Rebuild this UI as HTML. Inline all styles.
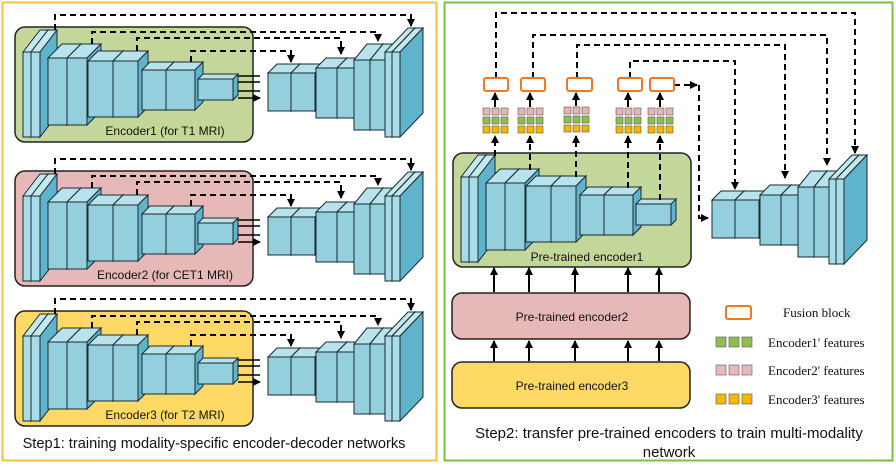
<!DOCTYPE html>
<html><head><meta charset="utf-8"><style>
html,body{margin:0;padding:0;background:#fff}
svg{display:block}
text{font-family:"Liberation Sans",sans-serif}
.serif{font-family:"Liberation Serif",serif}
</style></head><body>
<svg width="896" height="465" viewBox="0 0 896 465" xmlns="http://www.w3.org/2000/svg">
<defs>
<marker id="ah" markerWidth="9" markerHeight="9" refX="7" refY="4.5" orient="auto" markerUnits="userSpaceOnUse">
<path d="M0,0.5 L8,4.5 L0,8.5 z" fill="#000"/></marker>
<g id="enc" stroke="#1a2a30" stroke-width="1">
<rect x="23" y="52" width="8" height="85" fill="#a8dce8"/><polygon points="23,52 40,30 48,30 31,52" fill="#c4e8f0"/><polygon points="31,52 48,30 48,115 31,137" fill="#5fb3cb"/>
<rect x="31" y="52" width="9" height="85" fill="#a8dce8"/><polygon points="31,52 48,30 57,30 40,52" fill="#c4e8f0"/><polygon points="40,52 57,30 57,115 40,137" fill="#5fb3cb"/>
<rect x="48" y="58" width="19" height="67" fill="#93cfdd"/><polygon points="48,58 62,44 81,44 67,58" fill="#b9e3ec"/><polygon points="67,58 81,44 81,111 67,125" fill="#5fb3cb"/>
<rect x="67" y="58" width="20" height="67" fill="#93cfdd"/><polygon points="67,58 81,44 101,44 87,58" fill="#b9e3ec"/><polygon points="87,58 101,44 101,111 87,125" fill="#5fb3cb"/>
<rect x="88" y="61" width="25" height="56" fill="#93cfdd"/><polygon points="88,61 98,51 123,51 113,61" fill="#b9e3ec"/><polygon points="113,61 123,51 123,107 113,117" fill="#5fb3cb"/>
<rect x="113" y="61" width="25" height="56" fill="#93cfdd"/><polygon points="113,61 123,51 148,51 138,61" fill="#b9e3ec"/><polygon points="138,61 148,51 148,107 138,117" fill="#5fb3cb"/>
<rect x="142" y="70" width="24" height="40" fill="#93cfdd"/><polygon points="142,70 150,62 174,62 166,70" fill="#b9e3ec"/><polygon points="166,70 174,62 174,102 166,110" fill="#5fb3cb"/>
<rect x="166" y="70" width="29" height="40" fill="#93cfdd"/><polygon points="166,70 174,62 203,62 195,70" fill="#b9e3ec"/><polygon points="195,70 203,62 203,102 195,110" fill="#5fb3cb"/>
<rect x="198" y="79" width="35" height="21" fill="#93cfdd"/><polygon points="198,79 203,74 238,74 233,79" fill="#b9e3ec"/><polygon points="233,79 238,74 238,95 233,100" fill="#5fb3cb"/>
</g>
<g id="dec" stroke="#1a2a30" stroke-width="1">
<rect x="268" y="73" width="23" height="38" fill="#93cfdd"/><polygon points="268,73 277,64 300,64 291,73" fill="#b9e3ec"/><polygon points="291,73 300,64 300,102 291,111" fill="#5fb3cb"/>
<rect x="291" y="73" width="24" height="38" fill="#93cfdd"/><polygon points="291,73 300,64 324,64 315,73" fill="#b9e3ec"/><polygon points="315,73 324,64 324,102 315,111" fill="#5fb3cb"/>
<rect x="316" y="68" width="21" height="50" fill="#93cfdd"/><polygon points="316,68 326,58 347,58 337,68" fill="#b9e3ec"/><polygon points="337,68 347,58 347,108 337,118" fill="#5fb3cb"/>
<rect x="337" y="68" width="17" height="50" fill="#93cfdd"/><polygon points="337,68 347,58 364,58 354,68" fill="#b9e3ec"/><polygon points="354,68 364,58 364,108 354,118" fill="#5fb3cb"/>
<rect x="354" y="60" width="16" height="70" fill="#93cfdd"/><polygon points="354,60 367,44 383,44 370,60" fill="#b9e3ec"/><polygon points="370,60 383,44 383,114 370,130" fill="#5fb3cb"/>
<rect x="370" y="60" width="15" height="70" fill="#93cfdd"/><polygon points="370,60 383,44 398,44 385,60" fill="#b9e3ec"/><polygon points="385,60 398,44 398,114 385,130" fill="#5fb3cb"/>
<rect x="385" y="52" width="7" height="85" fill="#a8dce8"/><polygon points="385,52 408,28 415,28 392,52" fill="#c4e8f0"/><polygon points="392,52 415,28 415,113 392,137" fill="#5fb3cb"/>
<rect x="392" y="52" width="8" height="85" fill="#a8dce8"/><polygon points="392,52 415,28 423,28 400,52" fill="#c4e8f0"/><polygon points="400,52 423,28 423,113 400,137" fill="#5fb3cb"/>
</g>
<g id="skip" fill="none" stroke="#000" stroke-width="2">
<path d="M55,30 V15 H411 V26" stroke-dasharray="6,4" marker-end="url(#ah)"/>
<path d="M92,44 V32 H378 V41" stroke-dasharray="6,4" marker-end="url(#ah)"/>
<path d="M137,51 V38 H341 V54" stroke-dasharray="6,4" marker-end="url(#ah)"/>
<path d="M191,62 V51 H291 V62" stroke-dasharray="6,4" marker-end="url(#ah)"/>
<path d="M238,76 H260 M238,82 H260 M238,91 H260 M238,98 H260" stroke-width="1.6" marker-end="url(#ah)"/>
</g>
<g id="cubes" stroke="#555" stroke-width="0.6">
<rect x="0" y="0" width="7" height="7" fill="#e8b4b4"/><rect x="9" y="0" width="7" height="7" fill="#e8b4b4"/><rect x="18" y="0" width="7" height="7" fill="#e8b4b4"/>
<rect x="0" y="9" width="7" height="7" fill="#8fbf4f"/><rect x="9" y="9" width="7" height="7" fill="#8fbf4f"/><rect x="18" y="9" width="7" height="7" fill="#8fbf4f"/>
<rect x="0" y="18" width="7" height="7" fill="#f5b800"/><rect x="9" y="18" width="7" height="7" fill="#f5b800"/><rect x="18" y="18" width="7" height="7" fill="#f5b800"/>
</g>
</defs>

<rect x="2.5" y="2.5" width="434" height="458" fill="none" stroke="#f5c242" stroke-width="2"/>
<rect x="15" y="27" width="238" height="115" rx="10" fill="#c4d79b" stroke="#222" stroke-width="1.5"/>
<rect x="15" y="171" width="238" height="115" rx="10" fill="#e6b8b7" stroke="#222" stroke-width="1.5"/>
<rect x="15" y="311" width="238" height="115" rx="10" fill="#ffd966" stroke="#222" stroke-width="1.5"/>
<g><use href="#enc"/><use href="#dec"/><use href="#skip"/></g>
<g transform="translate(0,144)"><use href="#enc"/><use href="#dec"/><use href="#skip"/></g>
<g transform="translate(0,284)"><use href="#enc"/><use href="#dec"/><use href="#skip"/></g>
<text x="165" y="135" font-size="12" text-anchor="middle" fill="#111">Encoder1 (for T1 MRI)</text>
<text x="165" y="279" font-size="12" text-anchor="middle" fill="#111">Encoder2 (for CET1 MRI)</text>
<text x="165" y="419" font-size="12" text-anchor="middle" fill="#111">Encoder3 (for T2 MRI)</text>
<text x="214" y="448" font-size="14.6" text-anchor="middle" fill="#111">Step1: training modality-specific encoder-decoder networks</text>

<rect x="444.5" y="2.5" width="448" height="458" fill="none" stroke="#7ac143" stroke-width="2"/>
<rect x="453" y="153" width="238" height="114" rx="10" fill="#c4d79b" stroke="#222" stroke-width="1.5"/>
<g transform="translate(438,125)"><use href="#enc"/></g>
<g transform="translate(444,127)"><use href="#dec"/></g>
<text x="587" y="261" font-size="12" text-anchor="middle" fill="#111">Pre-trained encoder1</text>

<g fill="none" stroke="#000" stroke-width="2" stroke-dasharray="6,4">
<path d="M495,156 V136" marker-end="url(#ah)"/>
<path d="M530,170 V136" marker-end="url(#ah)"/>
<path d="M576,177 V136" marker-end="url(#ah)"/>
<path d="M628,188 V136" marker-end="url(#ah)"/>
<path d="M660,200 V136" marker-end="url(#ah)"/>
<path d="M496,78 V13 H855 V153" marker-end="url(#ah)"/>
<path d="M533,78 V35 H827 V165" marker-end="url(#ah)"/>
<path d="M577,78 V45 H785 V178" marker-end="url(#ah)"/>
<path d="M630,78 V61 H735 V189" marker-end="url(#ah)"/>
<path d="M674,85 H697" marker-end="url(#ah)"/>
<path d="M699,85 V218 H708" marker-end="url(#ah)"/>
</g>
<use href="#cubes" x="483" y="108"/>
<use href="#cubes" x="518" y="108"/>
<use href="#cubes" x="564" y="107"/>
<use href="#cubes" x="616" y="108"/>
<use href="#cubes" x="648" y="108"/>
<g fill="none" stroke="#000" stroke-width="2">
<path d="M495,107 V93" marker-end="url(#ah)"/>
<path d="M530,107 V93" marker-end="url(#ah)"/>
<path d="M576,106 V93" marker-end="url(#ah)"/>
<path d="M628,107 V93" marker-end="url(#ah)"/>
<path d="M660,107 V93" marker-end="url(#ah)"/>
</g>
<g fill="#fff" stroke="#f07820" stroke-width="2">
<rect x="484" y="78" width="24" height="13" rx="2"/>
<rect x="521" y="78" width="24" height="13" rx="2"/>
<rect x="567" y="78" width="25" height="13" rx="2"/>
<rect x="618" y="78" width="24" height="13" rx="2"/>
<rect x="650" y="78" width="24" height="13" rx="2"/>
</g>
<g fill="none" stroke="#000" stroke-width="2">
<path d="M494,292 V268" marker-end="url(#ah)"/><path d="M529,292 V268" marker-end="url(#ah)"/><path d="M575,292 V268" marker-end="url(#ah)"/><path d="M628,292 V268" marker-end="url(#ah)"/><path d="M659,292 V268" marker-end="url(#ah)"/>
<path d="M494,361 V341" marker-end="url(#ah)"/><path d="M529,361 V341" marker-end="url(#ah)"/><path d="M575,361 V341" marker-end="url(#ah)"/><path d="M628,361 V341" marker-end="url(#ah)"/><path d="M659,361 V341" marker-end="url(#ah)"/>
</g>
<rect x="452" y="293" width="238" height="46" rx="10" fill="#e6b8b7" stroke="#222" stroke-width="1.5"/>
<rect x="452" y="362" width="238" height="46" rx="10" fill="#ffd966" stroke="#222" stroke-width="1.5"/>
<text x="572" y="321" font-size="12" text-anchor="middle" fill="#111">Pre-trained encoder2</text>
<text x="572" y="390" font-size="12" text-anchor="middle" fill="#111">Pre-trained encoder3</text>

<rect x="726" y="306" width="25" height="13" rx="2" fill="#fff" stroke="#f07820" stroke-width="2"/>
<text class="serif" x="783" y="317" font-size="13" fill="#111">Fusion block</text>
<g stroke="#555" stroke-width="0.6">
<rect x="716" y="337" width="10" height="10" fill="#8fbf4f"/><rect x="729" y="337" width="10" height="10" fill="#8fbf4f"/><rect x="742" y="337" width="10" height="10" fill="#8fbf4f"/>
<rect x="716" y="365" width="10" height="10" fill="#eab8b8"/><rect x="729" y="365" width="10" height="10" fill="#eab8b8"/><rect x="742" y="365" width="10" height="10" fill="#eab8b8"/>
<rect x="716" y="394" width="10" height="10" fill="#f5b800"/><rect x="729" y="394" width="10" height="10" fill="#f5b800"/><rect x="742" y="394" width="10" height="10" fill="#f5b800"/>
</g>
<text class="serif" x="768" y="347" font-size="13" fill="#111">Encoder1' features</text>
<text class="serif" x="768" y="375" font-size="13" fill="#111">Encoder2' features</text>
<text class="serif" x="768" y="404" font-size="13" fill="#111">Encoder3' features</text>
<text x="669" y="438" font-size="15" text-anchor="middle" fill="#111">Step2: transfer pre-trained encoders to train multi-modality</text>
<text x="669" y="457" font-size="15" text-anchor="middle" fill="#111">network</text>
</svg>
</body></html>
